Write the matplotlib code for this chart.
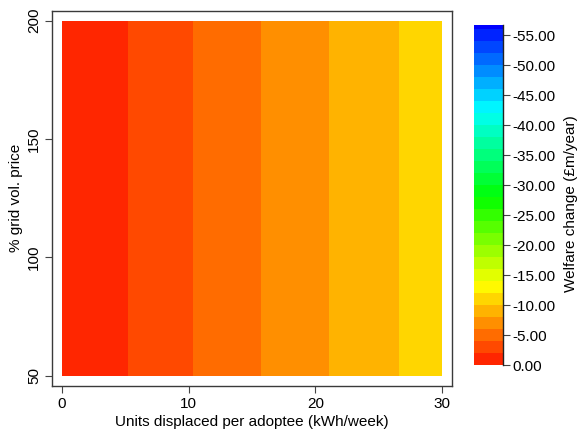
import colorsys
import numpy as np
import matplotlib
matplotlib.use("Agg")
import matplotlib.pyplot as plt
from matplotlib.colors import ListedColormap, BoundaryNorm

plt.rcParams["font.family"] = ["Liberation Sans", "DejaVu Sans"]
plt.rcParams["font.size"] = 11

# Grid of scenarios: units displaced (kWh/week) x % of grid volumetric price
units = [0, 5, 10, 15, 20, 25, 30]
price = [50, 100, 150, 200]
# Welfare change (GBP m/year) along units displaced; flat across price
welfare = [0.0, -1.93, -3.86, -5.74, -7.61, -9.42, -11.22]

# Contour cut points (top band closes the colour scale)
cuts = [0, -2, -4, -6, -8, -10, -12, -14, -16, -18, -20, -22, -24, -26, -28,
        -30, -32, -34, -36, -38, -40, -42, -44, -46, -48, -50, -52, -54, -56,
        -56.7]
cbar_ticks = [0, -5, -10, -15, -20, -25, -30, -35, -40, -45, -50, -55]

# Hue ramp from red (near zero) to blue (most negative)
nb = len(cuts) - 1
band_cols = [colorsys.hsv_to_rgb((9 + (240 - 9) * i / (nb - 1)) / 360.0, 1, 1)
             for i in range(nb)]
levels = sorted(cuts)
cols_inc = band_cols[::-1]
cmap = ListedColormap(cols_inc)
norm = BoundaryNorm(levels, cmap.N)

Z = np.tile(np.array(welfare), (len(price), 1))

fig = plt.figure(figsize=(5.79, 4.32), dpi=100)
ax = fig.add_axes([0.0903, 0.1072, 0.6897, 0.8673])
ax.contourf(units, price, Z, levels=levels, cmap=cmap, norm=norm)
ax.set_xlim(-0.77, 30.77)
ax.set_ylim(45.8, 204.1)
ax.set_xticks([0, 10, 20, 30])
ax.set_yticks([50, 100, 150, 200])
ax.set_yticklabels(["50", "100", "150", "200"], rotation=90, va="center")
ax.tick_params(direction="out", length=5, width=0.8, color="#444444", pad=3,
               labelsize=11)
for s in ax.spines.values():
    s.set_color("#3a3a3a")
    s.set_linewidth(1.0)
ax.set_xlabel("Units displaced per adoptee (kWh/week)", fontsize=11, labelpad=3)
ax.set_ylabel("% grid vol. price", fontsize=11, labelpad=3)

# Colour key
mids = np.array([(a + b) / 2 for a, b in zip(levels[:-1], levels[1:])])
cax = fig.add_axes([0.8187, 0.155, 0.0496, 0.787])
cax.pcolormesh([0, 1], levels, mids.reshape(-1, 1),
               cmap=cmap, norm=norm, shading="flat")
cax.set_xlim(0, 1)
cax.set_ylim(0, -56.7)
cax.set_xticks([])
cax.yaxis.tick_right()
cax.set_yticks(cbar_ticks)
cax.set_yticklabels([f"{v:.2f}" for v in cbar_ticks])
cax.tick_params(axis="y", direction="out", length=5, width=0.8, color="#444444",
                pad=2, labelsize=11)
for side in ["left", "top", "bottom"]:
    cax.spines[side].set_visible(False)
cax.spines["right"].set_color("#222222")
cax.spines["right"].set_linewidth(1.0)
cax.yaxis.set_label_position("right")
cax.set_ylabel("Welfare change (£m/year)", fontsize=11)
cax.yaxis.set_label_coords(3.15, 0.476)

fig.savefig("out.png", dpi=100)
